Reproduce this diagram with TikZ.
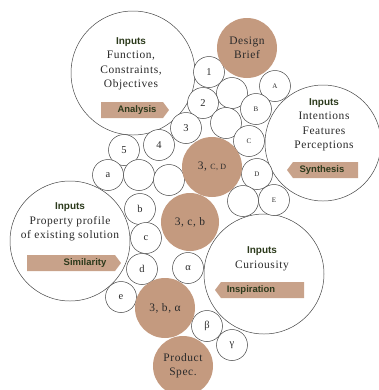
\documentclass[tikz,border=0pt]{standalone}
\usepackage{fontspec}
\setmainfont{Liberation Serif}[LetterSpace=5]
\newfontfamily\hdfont{Liberation Sans}[Scale=1]
\definecolor{tan}{HTML}{C49A7F}
\definecolor{bantan}{HTML}{C8A28A}
\definecolor{olive}{HTML}{2C3A1C}
\definecolor{ring}{HTML}{454545}
\definecolor{ink}{HTML}{2A2A2A}
\tikzset{
  bigc/.style={circle, draw=ring, line width=0.5pt, fill=white, inner sep=0pt, minimum size=#1},
  smc/.style={circle, draw=ring, line width=0.5pt, fill=white, inner sep=0pt, minimum size=31bp, text=ink, font=\fontsize{10.5}{12}\selectfont},
  brc/.style={circle, fill=tan, inner sep=0pt, minimum size=#1, align=center, text=ink, font=\fontsize{11.5}{14.5}\selectfont},
  txt/.style={align=center, inner sep=0pt, text=ink, font=\fontsize{11.5}{14.5}\selectfont},
  ban/.style={inner sep=0pt, text=olive, font=\hdfont\bfseries\fontsize{9.5}{11}\selectfont}
}
\newcommand{\inp}{{\hdfont\bfseries\fontsize{10}{11}\selectfont\color{olive}Inputs}}
\begin{document}
\begin{tikzpicture}[x=1bp,y=-1bp]
\useasboundingbox (0,0) rectangle (379,390);
% big white circles
\node[bigc=124bp] (anl) at (133,73) {};
\node[bigc=116bp] (syn) at (323,143) {};
\node[bigc=120bp] (sim) at (70,241) {};
\node[bigc=120bp] (cur) at (264,274) {};
% small circles
\node[smc] (s1) at (209,72) {1};
\node[smc] (sA) at (275,86) {\scriptsize A};
\node[smc] (su1) at (232,93) {};
\node[smc] (s2) at (203,103) {2};
\node[smc] (sB) at (256,109) {\scriptsize B};
\node[smc] (su2) at (226,123) {};
\node[smc] (s3) at (186,128) {3};
\node[smc] (sC) at (249,141) {\scriptsize C};
\node[smc] (sD) at (257,174) {\scriptsize D};
\node[smc] (s5) at (124,150) {5};
\node[smc] (s4) at (159,145) {4};
\node[smc] (sa) at (108,175) {a};
\node[smc] (su3) at (139,175) {};
\node[smc] (su4) at (169,180) {};
\node[smc] (sE) at (274,200) {\scriptsize E};
\node[smc] (su5) at (243,201) {};
\node[smc] (sb) at (140,209) {b};
\node[smc] (sc) at (146,238) {c};
\node[smc] (sd) at (142,269) {d};
\node[smc] (sal) at (188,268) {α};
\node[smc] (se) at (121,297) {e};
\node[smc] (sbe) at (207,326) {β};
\node[smc] (sga) at (232,345) {γ};
% brown circles
\node[brc=60bp] (brief) at (247,48) {Design\\Brief};
\node[brc=60bp] (cd) at (212,167) {3, {\footnotesize C, D}};
\node[brc=58bp] (cb) at (190,222) {3, c, b};
\node[brc=60bp] (ba) at (165,308) {3, b, α};
\node[brc=60bp] (spec) at (183,366) {Product\\Spec.};
% texts in big circles
\node[txt] (tanl) at (131,64) {\inp\\Function,\\Constraints,\\Objectives};
\node[txt] (tsyn) at (324,125) {\inp\\Intentions\\Features\\Perceptions};
\node[txt] (tsim) at (70,222) {\inp\\Property profile\\of existing solution};
\node[txt] (tcur) at (262,259) {\inp\\Curiousity};
% banners
\fill[bantan] (101,102) -- (163,102) -- (169,110) -- (163,118) -- (101,118) -- cycle;
\node[ban] (banl) at (137,110) {Analysis};
\fill[bantan] (287,170) -- (293,162) -- (358,162) -- (358,178) -- (293,178) -- cycle;
\node[ban] (bsyn) at (322,170) {Synthesis};
\fill[bantan] (27,255) -- (115,255) -- (121,263) -- (115,271) -- (27,271) -- cycle;
\node[ban] (bsim) at (85,263) {Similarity};
\fill[bantan] (215,290) -- (221,282) -- (304,282) -- (304,298) -- (221,298) -- cycle;
\node[ban] (bcur) at (251,290) {Inspiration};
\end{tikzpicture}
\end{document}
